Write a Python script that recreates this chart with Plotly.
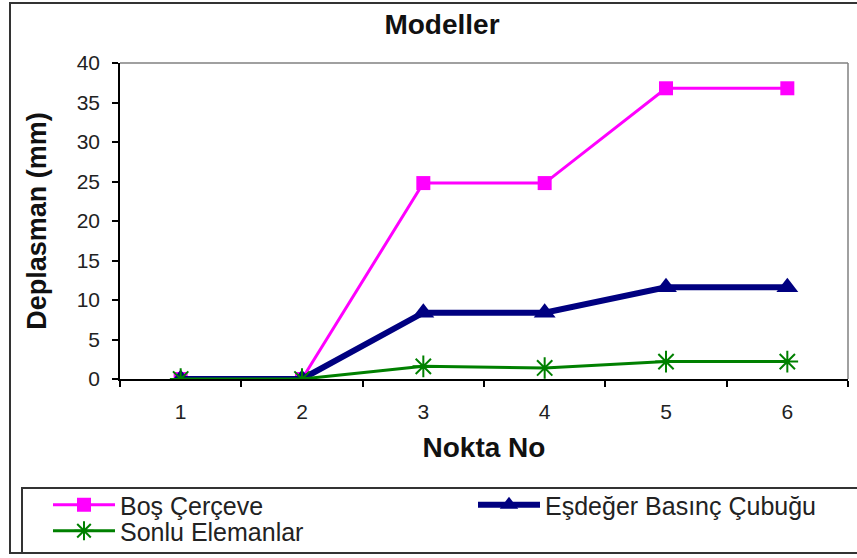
import plotly.graph_objects as go

W, H = 857, 558
# plot area pixels
L, R, T, B = 120, 848, 63, 379
PW, PH = R - L, B - T

categories = ["1", "2", "3", "4", "5", "6"]
bos_cerceve = [0, 0, 24.8, 24.8, 36.8, 36.8]
esdeger = [0, 0, 8.4, 8.4, 11.6, 11.6]
sonlu = [0, 0, 1.6, 1.4, 2.2, 2.2]

names = ["Boş Çerçeve", "Eşdeğer Basınç Çubuğu", "Sonlu Elemanlar"]
FONT = "Liberation Sans, Arial, sans-serif"


def px_x(px):
    return (px - L) / PW


def px_y(py):
    return (B - py) / PH


fig = go.Figure()
fig.add_trace(go.Scatter(
    x=categories, y=bos_cerceve, name=names[0], mode="lines+markers",
    line=dict(color="#FF00FF", width=3),
    marker=dict(symbol="square", size=14, color="#FF00FF"),
    legend="legend"))
fig.add_trace(go.Scatter(
    x=categories, y=esdeger, name=names[1], mode="lines+markers",
    line=dict(color="#000080", width=6),
    marker=dict(symbol="triangle-up", size=19, color="#000080"),
    legend="legend3"))
fig.add_trace(go.Scatter(
    x=categories, y=sonlu, name=names[2], mode="lines+markers",
    line=dict(color="#008000", width=3),
    marker=dict(symbol="asterisk-open", size=18, color="#008000",
                line=dict(color="#008000", width=2)),
    legend="legend2"))

shapes = [
    # outer chart border
    dict(type="rect", xref="paper", yref="paper",
         x0=px_x(10), x1=px_x(864), y0=px_y(553), y1=px_y(3),
         line=dict(color="#333333", width=2), layer="below"),
    # legend box
    dict(type="rect", xref="paper", yref="paper",
         x0=px_x(22), x1=px_x(864), y0=px_y(553), y1=px_y(488),
         line=dict(color="#333333", width=2), layer="below"),
    # plot area top & right border (gray)
    dict(type="line", xref="paper", yref="paper", x0=0, x1=1, y0=1, y1=1,
         line=dict(color="#808080", width=1.5)),
    dict(type="line", xref="paper", yref="paper", x0=1, x1=1, y0=0, y1=1,
         line=dict(color="#808080", width=1.5)),
]

leg_common = dict(bgcolor="rgba(0,0,0,0)", borderwidth=0, itemwidth=62,
                  font=dict(family=FONT, size=25, color="#222222"),
                  xanchor="left", yanchor="middle", orientation="v",
                  itemclick=False, itemdoubleclick=False)

fig.update_layout(
    width=W, height=H,
    showlegend=True,
    margin=dict(l=L, r=W - R, t=T, b=H - B, autoexpand=False),
    paper_bgcolor="white", plot_bgcolor="white",
    font=dict(family=FONT, color="#222222"),
    title=dict(text="<b>Modeller</b>", x=px_x(442), xref="paper",
               y=1 - 24 / H, yanchor="middle", xanchor="center",
               font=dict(size=28, color="#111111")),
    xaxis=dict(type="category", range=[-0.5, 5.5], tickson="boundaries",
               ticks="outside", ticklen=6, tickcolor="black", tickwidth=1.5,
               showline=True, linecolor="black", linewidth=1.5,
               showgrid=False, zeroline=False,
               tickfont=dict(size=21, color="#222222"),
               ticklabelstandoff=13,
               title=dict(text="<b>Nokta No</b>", standoff=15,
                          font=dict(size=28, color="#111111"))),
    yaxis=dict(range=[0, 40], dtick=5, ticks="outside", ticklen=6,
               tickcolor="black", tickwidth=1.5,
               showline=True, linecolor="black", linewidth=1.5,
               showgrid=False, zeroline=False,
               tickfont=dict(size=21, color="#222222"),
               ticklabelstandoff=8,
               title=dict(text="<b>Deplasman (mm)</b>", standoff=22,
                          font=dict(size=27, color="#111111"))),
    shapes=shapes,
    legend=dict(x=px_x(48), y=px_y(505), **leg_common),
    legend2=dict(x=px_x(48), y=px_y(531), **leg_common),
    legend3=dict(x=px_x(473), y=px_y(505), **leg_common),
)

fig.write_html("out.html", config=dict(displayModeBar=False),
               post_script="document.body.style.margin='0';")
